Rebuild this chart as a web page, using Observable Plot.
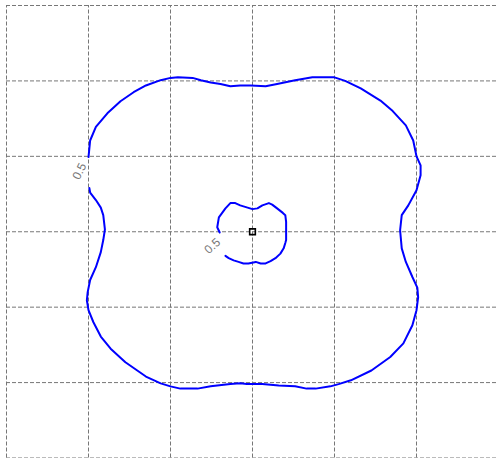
<!DOCTYPE html>
<html>
<head>
<meta charset="utf-8">
<script src="https://cdn.jsdelivr.net/npm/d3@7"></script>
<script src="https://cdn.jsdelivr.net/npm/@observablehq/plot@0.6"></script>
<style>
  html, body { margin: 0; padding: 0; background: #fff; }
  #chart svg { display: block; }
</style>
</head>
<body>
<div id="chart"></div>
<script>
// Grid tick values
const xTicks = [-3, -2, -1, 0, 1, 2, 3];
const yTicks = [-3, -2, -1, 0, 1, 2, 3];

// Contour level 0.5 - outer curve (open where its label sits)
const outerContour = [
  [-2.00, 0.99], [-1.98, 1.21], [-1.91, 1.39], [-1.77, 1.57], [-1.61, 1.73],
  [-1.45, 1.85], [-1.30, 1.94], [-1.12, 2.01], [-1.00, 2.04], [-0.91, 2.05],
  [-0.73, 2.04], [-0.63, 2.01], [-0.51, 1.98], [-0.39, 1.96], [-0.27, 1.93],
  [-0.15, 1.94], [-0.02, 1.94], [0.16, 1.93], [0.30, 1.96], [0.52, 2.01],
  [0.73, 2.05], [0.99, 2.05], [1.13, 2.00], [1.32, 1.90], [1.56, 1.74],
  [1.71, 1.60], [1.87, 1.41], [1.96, 1.21], [2.00, 1.00], [2.05, 0.88],
  [2.05, 0.75], [2.00, 0.55], [1.90, 0.35], [1.82, 0.22], [1.80, 0.02],
  [1.82, -0.22], [1.87, -0.40], [1.95, -0.60], [2.01, -0.74], [2.02, -0.87],
  [2.00, -1.04], [1.95, -1.24], [1.84, -1.48], [1.68, -1.66], [1.45, -1.84],
  [1.20, -1.97], [1.05, -2.02], [0.95, -2.05], [0.77, -2.08], [0.66, -2.08],
  [0.52, -2.05], [0.32, -2.04], [0.12, -2.02], [-0.07, -2.02], [-0.15, -2.01],
  [-0.27, -2.02], [-0.51, -2.05], [-0.67, -2.08], [-0.88, -2.08], [-1.00, -2.05],
  [-1.12, -2.01], [-1.30, -1.92], [-1.55, -1.73], [-1.73, -1.55], [-1.85, -1.39],
  [-1.94, -1.20], [-2.00, -1.04], [-2.02, -0.91], [-2.01, -0.80], [-1.98, -0.64],
  [-1.91, -0.47], [-1.85, -0.27], [-1.82, -0.11], [-1.80, 0.03], [-1.82, 0.22],
  [-1.85, 0.32], [-1.91, 0.42], [-1.98, 0.52], [-1.99, 0.58]
];

// Contour level 0.5 - inner curve (open where its label sits)
const innerContour = [
  [-0.40, -0.01], [-0.43, 0.06], [-0.41, 0.19], [-0.37, 0.25], [-0.33, 0.31],
  [-0.27, 0.38], [-0.21, 0.38], [-0.15, 0.35], [-0.06, 0.32], [0.00, 0.30],
  [0.06, 0.31], [0.12, 0.35], [0.20, 0.38], [0.24, 0.36], [0.30, 0.31],
  [0.37, 0.25], [0.40, 0.22], [0.41, 0.13], [0.41, -0.11], [0.40, -0.15],
  [0.38, -0.22], [0.34, -0.29], [0.28, -0.35], [0.22, -0.39], [0.16, -0.42],
  [0.10, -0.42], [0.04, -0.40], [-0.05, -0.42], [-0.11, -0.42], [-0.17, -0.40],
  [-0.23, -0.38], [-0.29, -0.35], [-0.33, -0.32]
];

// Contour labels
const labelText = ["0.5", "0.5"];
const labelX = [-2.11, -0.49];
const labelY = [0.80, -0.19];
const labelAngle = [-64, -42];

// Centre marker
const centre = [[0, 0]];

const labels = labelText.map((t, i) => ({ t, x: labelX[i], y: labelY[i], a: labelAngle[i] }));

const chart = Plot.plot({
  width: 496,
  height: 458,
  marginTop: 0, marginRight: 0, marginBottom: 0, marginLeft: 0,
  style: { background: "#fff", fontFamily: "'Liberation Sans', Arial, sans-serif" },
  x: { domain: [-3, 3], range: [6, 498], axis: null },
  y: { domain: [-3, 3], range: [457.5, 5], axis: null },
  marks: [
    Plot.ruleX(xTicks, { x: d => d, y1: -3, y2: 3, stroke: "#777777", strokeWidth: 1, strokeDasharray: "4,2" }),
    Plot.ruleY(yTicks, { y: d => d, x1: -3, x2: 3, stroke: "#777777", strokeWidth: 1, strokeDasharray: "4,2" }),
    Plot.line(outerContour, { x: d => d[0], y: d => d[1], stroke: "#0000ff", strokeWidth: 2, curve: "linear" }),
    Plot.line(innerContour, { x: d => d[0], y: d => d[1], stroke: "#0000ff", strokeWidth: 2, curve: "linear" }),
    Plot.text(labels, { x: "x", y: "y", text: "t", rotate: "a", fill: "#777777", fontSize: 12, letterSpacing: "1px" }),
    Plot.dot(centre, { x: d => d[0], y: d => d[1], symbol: "square", r: 3.2, stroke: "#000", strokeWidth: 1.6, fill: "none" })
  ]
});
document.getElementById("chart").appendChild(chart);
</script>
</body>
</html>
